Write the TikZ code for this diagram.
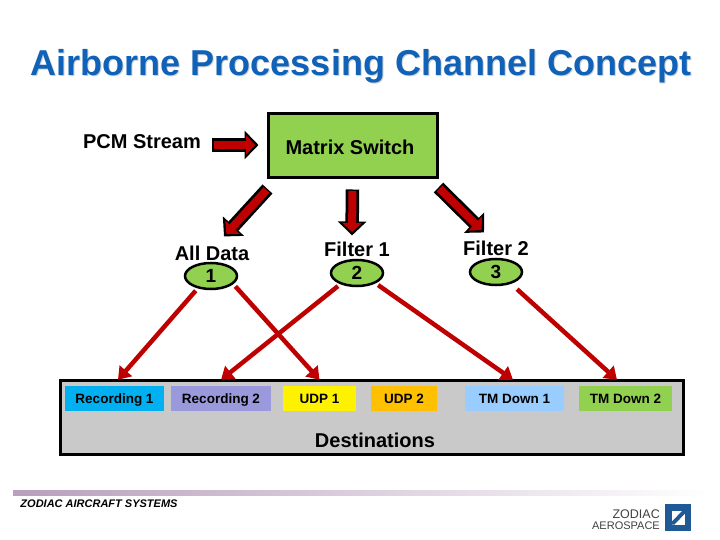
\documentclass[tikz,border=0pt]{standalone}
\usepackage{fontspec}
\setmainfont{Liberation Sans}
\usetikzlibrary{arrows.meta,shapes.geometric}
\definecolor{chanred}{HTML}{BF0000}
\definecolor{changreen}{HTML}{92D050}
\definecolor{chanblue}{HTML}{0F62B8}
\definecolor{logoblue}{HTML}{1F5A96}
\tikzset{
  blockarrow/.style={line width=8pt, chanred, shorten <=1.5pt, shorten >=3.5pt, -{Triangle[length=9pt,width=19pt]},
    preaction={draw=black, line width=13.5pt, shorten <=0pt, shorten >=0pt, -{Triangle[length=14pt,width=28pt]}}},
  redline/.style={line width=4.5pt, chanred, shorten <=3pt, -{Triangle[length=12pt,width=16pt]}},
  label/.style={font=\fontsize{20}{22}\selectfont\bfseries, inner sep=0pt},
  filter/.style={ellipse, draw, line width=2.5pt, fill=changreen, minimum width=52pt,
    minimum height=26pt, inner sep=0pt, font=\fontsize{19}{21}\selectfont\bfseries},
  dest/.style={minimum height=25pt, inner sep=0pt, text height=10pt, text depth=0pt, font=\fontsize{13.5}{15}\selectfont\bfseries},
  logotext/.style={anchor=east, inner sep=0pt, text=black!75}
}
\begin{document}
\begin{tikzpicture}[x=1pt,y=-1pt]
  \useasboundingbox (0,0) rectangle (720,540);

  \node[font=\fontsize{36}{40}\selectfont\bfseries, text=black!18, inner sep=0pt] at (362,67.5) {Airborne Processing Channel Concept};
  \node[font=\fontsize{36}{40}\selectfont\bfseries, text=chanblue, inner sep=0pt] (title) at (361,66) {Airborne Processing Channel Concept};

  % top row
  \node[label] (pcm) at (142,142) {PCM Stream};
  \node[draw, line width=3pt, fill=changreen, minimum width=169pt, minimum height=64pt, inner sep=0pt] (switch) at (352.5,146) {};
  \node[label] (switchtext) at (350,147) {Matrix Switch};

  % filters
  \node[label] (alldata) at (212,253) {All Data};
  \node[filter] (one) at (211,276) {1};
  \node[label] (filterone) at (357,249) {Filter 1};
  \node[filter] (two) at (357,273) {2};
  \node[label] (filtertwo) at (496,248) {Filter 2};
  \node[filter] (three) at (496,272) {3};

  % destinations
  \node[draw, line width=3pt, fill=black!21, minimum width=623pt, minimum height=74pt, inner sep=0pt] (destbox) at (372,417.5) {};
  \node[dest, fill={rgb,255:red,0;green,176;blue,240}, minimum width=99pt] (recone) at (114.5,398.5) {Recording 1};
  \node[dest, fill={rgb,255:red,153;green,153;blue,220}, minimum width=100pt] (rectwo) at (221,398.5) {Recording 2};
  \node[dest, fill=yellow, minimum width=73pt] (udpone) at (319.5,398.5) {UDP 1};
  \node[dest, fill={rgb,255:red,255;green,192;blue,0}, minimum width=66pt] (udptwo) at (404,398.5) {UDP 2};
  \node[dest, fill={rgb,255:red,153;green,204;blue,255}, minimum width=99pt] (tmone) at (514.5,398.5) {TM Down 1};
  \node[dest, fill=changreen, minimum width=93pt] (tmtwo) at (625.5,398.5) {TM Down 2};
  \node[label] (desttext) at (375,440) {Destinations};

  % arrows from the switch
  \draw[blockarrow] ([shift={(11,3)}]pcm.east) -- ([shift={(-8,-1)}]switch.west);
  \draw[blockarrow] ([shift={(1,9.5)}]switch.south west) -- ([shift={(12,-9)}]alldata.north);
  \draw[blockarrow] ([shift={(0,10)}]switch.south) -- ([shift={(-5,-6)}]filterone.north);
  \draw[blockarrow] ([shift={(0,8)}]switch.south east) -- ([shift={(-12,-8)}]filtertwo.north);

  % arrows to the destinations
  \draw[redline] (one.-137) -- ([shift={(3.5,-6)}]recone.north);
  \draw[redline] (one.-20) -- ([shift={(0,-6)}]udpone.north);
  \draw[redline] (two.-146) -- ([shift={(0,-6)}]rectwo.north);
  \draw[redline] (two.-29) -- ([shift={(-1.5,-6)}]tmone.north);
  \draw[redline, shorten <=8pt] (three.-38) -- ([shift={(-8.5,-6)}]tmtwo.north);

  % footer
  \node[left color={rgb,255:red,184;green,159;blue,188}, right color=white, minimum width=700pt, minimum height=4.5pt, inner sep=0pt] (footbar) at (363,493) {};
  \node[font=\fontsize{11}{13}\selectfont\bfseries\itshape, inner sep=0pt] (foottext) at (99,504) {ZODIAC AIRCRAFT SYSTEMS};

  % logo
  \node[logotext, font=\fontsize{12.5}{14}\selectfont] (logoa) at (660,514) {ZODIAC};
  \node[logotext, font=\fontsize{11}{13}\selectfont] (logob) at (660,526) {AEROSPACE};
  \fill[logoblue] (665,504) rectangle (691,531);
  \fill[white] (671.5,511) rectangle (685,524.5);
  \fill[logoblue] (671.5,522) -- (682,511) -- (685,511) -- (685,513.5) -- (674.5,524.5) -- (671.5,524.5) -- cycle;
\end{tikzpicture}
\end{document}
